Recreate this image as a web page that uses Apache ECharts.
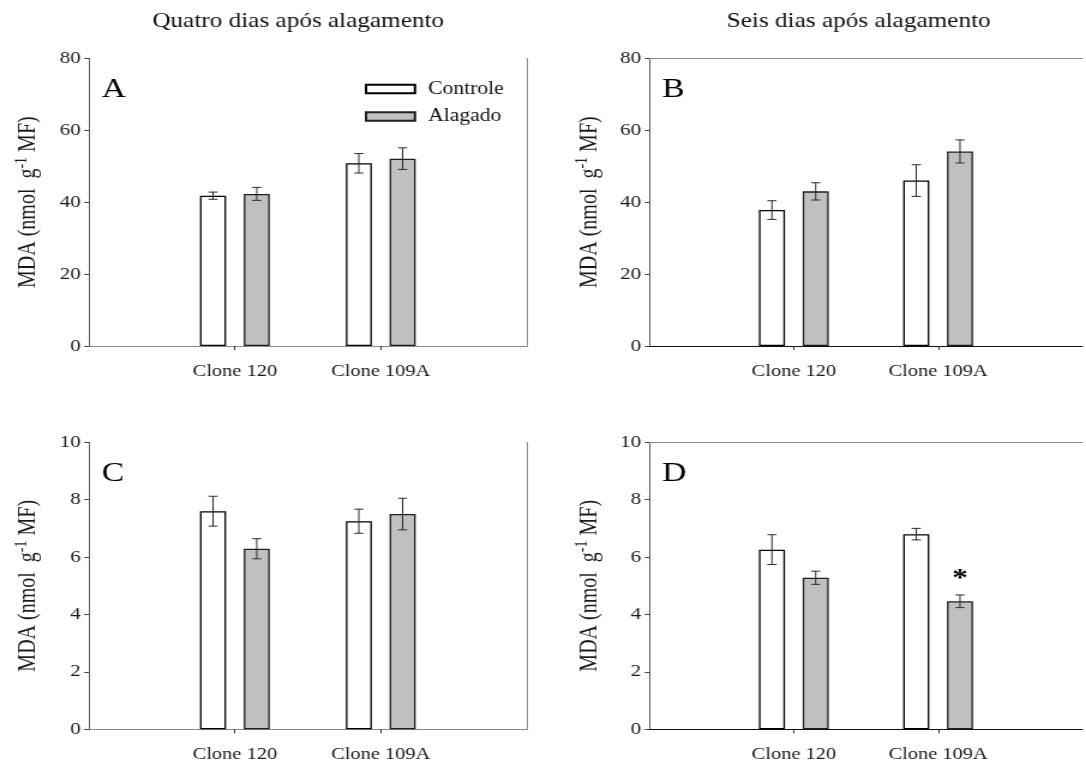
<!DOCTYPE html>
<html>
<head>
<meta charset="utf-8">
<script src="https://cdn.jsdelivr.net/npm/echarts@6/dist/echarts.min.js"></script>
<style>
  html, body { margin: 0; padding: 0; background: #fff; overflow: hidden; }
  /* Drawn on a narrower canvas and widened horizontally for the broad serif lettering */
  #chart { width: 905px; height: 767px; transform: scaleX(1.2); transform-origin: 0 0; }
</style>
</head>
<body>
<div id="chart"></div>
<script>
// ---- data -------------------------------------------------------------
const categories = ['Clone 120', 'Clone 109A'];
const seriesNames = ['Controle', 'Alagado'];
const panelTitles = ['Quatro dias após alagamento', 'Seis dias após alagamento'];
const panelLetters = ['A', 'B', 'C', 'D'];

// MDA, top row: four and six days
const mdaA_controle = [41.8, 50.8];
const mdaA_controleErr = [1.0, 2.7];
const mdaA_alagado = [42.3, 52.1];
const mdaA_alagadoErr = [1.8, 3.0];

const mdaB_controle = [37.8, 46.0];
const mdaB_controleErr = [2.6, 4.4];
const mdaB_alagado = [43.0, 54.1];
const mdaB_alagadoErr = [2.4, 3.2];

// MDA, bottom row: four and six days
const mdaC_controle = [7.60, 7.25];
const mdaC_controleErr = [0.52, 0.42];
const mdaC_alagado = [6.29, 7.50];
const mdaC_alagadoErr = [0.35, 0.55];

const mdaD_controle = [6.26, 6.80];
const mdaD_controleErr = [0.52, 0.20];
const mdaD_alagado = [5.28, 4.46];
const mdaD_alagadoErr = [0.23, 0.22];
const mdaD_alagadoSig = ['', '*'];

const noSig = ['', ''];

// ---- layout ------------------------------------------------------------
const FONT = '"Liberation Serif", "Times New Roman", serif';
const BAR_W = 21.7;
const GAP = 0.68;
const HALF_STEP = BAR_W * (1 + GAP) / 2;
const CAP = 3.8;
const PLOT_W = 364.6;
const BORDER = '#8a8a8a';

const panels = [
  { left: 74.2,   top: 58.3,  height: 287.7, max: 80, step: 20, rightEdge: true,
    c: mdaA_controle, cErr: mdaA_controleErr, a: mdaA_alagado, aErr: mdaA_alagadoErr, sig: noSig },
  { left: 541.25, top: 58.3,  height: 287.7, max: 80, step: 20, rightEdge: false,
    c: mdaB_controle, cErr: mdaB_controleErr, a: mdaB_alagado, aErr: mdaB_alagadoErr, sig: noSig },
  { left: 74.2,   top: 442.3, height: 287,   max: 10, step: 2, rightEdge: true,
    c: mdaC_controle, cErr: mdaC_controleErr, a: mdaC_alagado, aErr: mdaC_alagadoErr, sig: noSig },
  { left: 541.25, top: 442.3, height: 287,   max: 10, step: 2, rightEdge: false,
    c: mdaD_controle, cErr: mdaD_controleErr, a: mdaD_alagado, aErr: mdaD_alagadoErr, sig: mdaD_alagadoSig }
];

// error bars (and significance mark) sitting on top of each bar
function errorBars(side, sig) {
  return function (params, api) {
    const x = api.value(0), v = api.value(1), e = api.value(2);
    const hi = api.coord([x, v + e]);
    const lo = api.coord([x, v - e]);
    const cx = hi[0] + side * HALF_STEP;
    const st = { stroke: '#2b2b2b', lineWidth: 1 };
    const kids = [
      { type: 'line', shape: { x1: cx, y1: hi[1], x2: cx, y2: lo[1] }, style: st },
      { type: 'line', shape: { x1: cx - CAP, y1: hi[1], x2: cx + CAP, y2: hi[1] }, style: st },
      { type: 'line', shape: { x1: cx - CAP, y1: lo[1], x2: cx + CAP, y2: lo[1] }, style: st }
    ];
    const mark = sig[params.dataIndex];
    if (mark) {
      kids.push({ type: 'text', x: cx, y: hi[1] - 16,
        style: { text: mark, font: 'bold 26px ' + FONT, fill: '#000',
                 align: 'center', verticalAlign: 'middle', textAlign: 'center', textVerticalAlign: 'middle' } });
    }
    return { type: 'group', children: kids };
  };
}

const grid = [], xAxis = [], yAxis = [], series = [], graphic = [];
const frameX = [], frameY = [];
const yName = '{m|MDA (nmol  g}{s|-1}{m| MF)}';
const xSlots = [''].concat(categories, ['']);

panels.forEach((p, i) => {
  grid.push({ left: p.left, top: p.top, width: PLOT_W, height: p.height, show: false });
  xAxis.push({
    type: 'category', gridIndex: i, boundaryGap: false, data: xSlots, position: 'bottom',
    axisLine: { lineStyle: { color: '#111', width: 1.2 } },
    axisTick: { show: true, length: 4, inside: false, lineStyle: { color: '#333' },
                interval: (idx) => idx === 1 || idx === 2 },
    axisLabel: { interval: 0, margin: 17, fontFamily: FONT, fontSize: 17, color: '#1a1a1a' },
    splitLine: { show: false }
  });
  yAxis.push({
    type: 'value', gridIndex: i, min: 0, max: p.max, interval: p.step, position: 'left',
    name: yName, nameLocation: 'middle', nameRotate: 90, nameGap: 37,
    nameTextStyle: { rich: {
      m: { fontFamily: FONT, fontSize: 20, color: '#1a1a1a', lineHeight: 26 },
      s: { fontFamily: FONT, fontSize: 14, color: '#1a1a1a', lineHeight: 14, verticalAlign: 'top' }
    } },
    axisLine: { show: true, lineStyle: { color: '#555', width: 1 } },
    axisTick: { show: true, length: 4, inside: false, lineStyle: { color: '#444' } },
    axisLabel: { margin: 7, fontFamily: FONT, fontSize: 17.5, color: '#1a1a1a' },
    splitLine: { show: false }
  });
  // frame: top edge, and right edge where it falls inside the page
  frameX.push({
    type: 'category', gridIndex: i, boundaryGap: false, data: xSlots, position: 'top',
    axisLine: { show: true, lineStyle: { color: BORDER, width: 1 } },
    axisTick: { show: false }, axisLabel: { show: false }, splitLine: { show: false }
  });
  if (p.rightEdge) {
    frameY.push({
      type: 'value', gridIndex: i, min: 0, max: p.max, position: 'right',
      axisLine: { show: true, lineStyle: { color: BORDER, width: 1 } },
      axisTick: { show: false }, axisLabel: { show: false }, splitLine: { show: false }
    });
  }
  series.push({
    type: 'bar', name: seriesNames[0], xAxisIndex: i, yAxisIndex: i,
    data: p.c.map((v, k) => [k + 1, v]), barWidth: BAR_W, barGap: (GAP * 100) + '%',
    itemStyle: { color: '#ffffff', borderColor: '#000', borderWidth: 1.3 }
  });
  series.push({
    type: 'bar', name: seriesNames[1], xAxisIndex: i, yAxisIndex: i,
    data: p.a.map((v, k) => [k + 1, v]), barWidth: BAR_W, barGap: (GAP * 100) + '%',
    itemStyle: { color: '#c0c0c0', borderColor: '#1e1e1e', borderWidth: 1.3 }
  });
  series.push({
    type: 'custom', name: 'err-c-' + i, xAxisIndex: i, yAxisIndex: i, z: 5,
    renderItem: errorBars(-1, noSig),
    data: p.c.map((v, k) => [k + 1, v, p.cErr[k]])
  });
  series.push({
    type: 'custom', name: 'err-a-' + i, xAxisIndex: i, yAxisIndex: i, z: 5,
    renderItem: errorBars(1, p.sig),
    data: p.a.map((v, k) => [k + 1, v, p.aErr[k]])
  });
  graphic.push({
    type: 'text', x: p.left + 10.5, y: p.top + 31,
    style: { text: panelLetters[i], font: '28px ' + FONT, fill: '#000',
             align: 'left', verticalAlign: 'middle', textAlign: 'left', textVerticalAlign: 'middle' }
  });
});

panelTitles.forEach((t, j) => {
  graphic.push({
    type: 'text', x: panels[j].left + PLOT_W / 2 - 8, y: 21,
    style: { text: t, font: '21px ' + FONT, fill: '#111',
             align: 'center', verticalAlign: 'middle', textAlign: 'center', textVerticalAlign: 'middle' }
  });
});

const chart = echarts.init(document.getElementById('chart'), null, { renderer: 'canvas' });
chart.setOption({
  animation: false,
  backgroundColor: '#ffffff',
  grid,
  xAxis: xAxis.concat(frameX),
  yAxis: yAxis.concat(frameY),
  series, graphic,
  legend: {
    data: seriesNames, orient: 'vertical', left: 304, top: 79, padding: 0,
    itemWidth: 40.8, itemHeight: 8.5, itemGap: 7.5, icon: 'rect',
    selectedMode: false,
    textStyle: { fontFamily: FONT, fontSize: 18, color: '#111', lineHeight: 20, padding: [0, 0, 0, 6] }
  }
});
</script>
</body>
</html>
